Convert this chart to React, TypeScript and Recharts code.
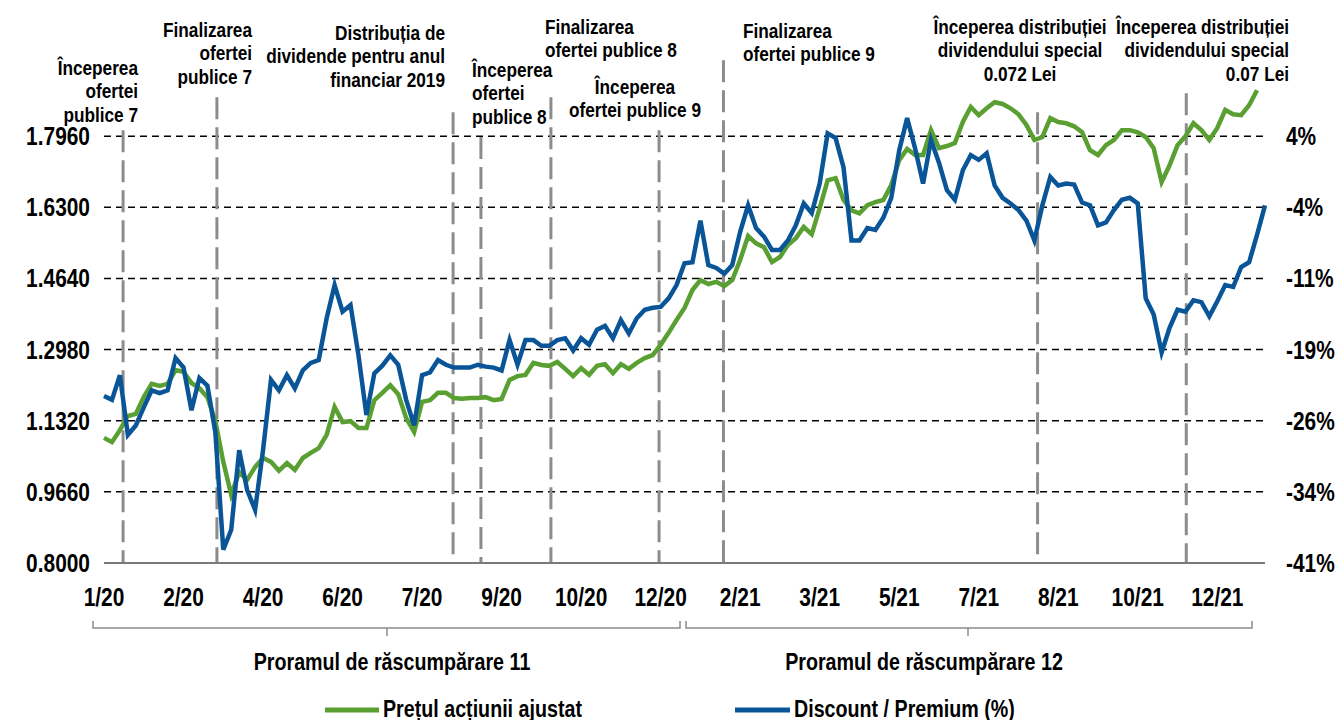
import React from "react"
import { LineChart, Line, XAxis, YAxis, ReferenceLine } from "recharts"

// Arial Narrow look: Liberation Sans Bold squeezed horizontally
const FONT = "'Liberation Sans', Arial, sans-serif"
const SQUEEZE = 0.82
const GREEN = "#5a9f32"
const BLUE = "#0a5597"
const GREY = "#8c8c8c"

// one x label every 10 points
const xLabels = ["1/20", "2/20", "4/20", "6/20", "7/20", "9/20", "10/20", "12/20", "2/21", "3/21", "5/21", "7/21", "8/21", "10/21", "12/21"]

const leftTicks = [0.8, 0.966, 1.132, 1.298, 1.464, 1.63, 1.796]
const rightTicks = [-41, -33.5, -26, -18.5, -11, -3.5, 4]
const rightTickLabels = ["-41%", "-34%", "-26%", "-19%", "-11%", "-4%", "4%"]

// Pretul actiunii ajustat (left axis)
const pret = [
  1.092, 1.082, 1.110, 1.143, 1.148, 1.187, 1.218, 1.213, 1.218, 1.250,
  1.246, 1.220, 1.208, 1.187, 1.131, 1.036, 0.959, 1.012, 0.994, 1.024,
  1.045, 1.036, 1.015, 1.033, 1.017, 1.045, 1.057, 1.068, 1.099, 1.164,
  1.129, 1.131, 1.115, 1.115, 1.180, 1.197, 1.215, 1.194, 1.138, 1.106,
  1.176, 1.180, 1.197, 1.197, 1.185, 1.183, 1.185, 1.185, 1.187, 1.180,
  1.183, 1.227, 1.236, 1.239, 1.267, 1.262, 1.260, 1.269, 1.253, 1.236,
  1.255, 1.239, 1.260, 1.264, 1.243, 1.264, 1.253, 1.267, 1.278, 1.285,
  1.309, 1.337, 1.367, 1.395, 1.437, 1.460, 1.451, 1.456, 1.446, 1.460,
  1.507, 1.563, 1.546, 1.537, 1.502, 1.514, 1.542, 1.558, 1.584, 1.567,
  1.628, 1.693, 1.698, 1.647, 1.623, 1.616, 1.635, 1.642, 1.647, 1.682,
  1.740, 1.766, 1.752, 1.752, 1.810, 1.768, 1.773, 1.780, 1.829, 1.864,
  1.845, 1.861, 1.875, 1.871, 1.861, 1.847, 1.822, 1.787, 1.794, 1.838,
  1.829, 1.826, 1.819, 1.805, 1.763, 1.752, 1.775, 1.787, 1.810, 1.810,
  1.805, 1.794, 1.768, 1.689, 1.728, 1.775, 1.796, 1.826, 1.810, 1.787,
  1.815, 1.857, 1.847, 1.845, 1.868, 1.903, null,
]

// Discount / Premium (%) (right axis)
const discount = [
  -23.4, -23.8, -21.2, -27.5, -26.5, -24.6, -22.8, -23.1, -22.8, -19.4,
  -20.4, -24.9, -21.5, -22.3, -27.2, -39.6, -37.5, -29.1, -33.3, -35.4,
  -29.1, -21.7, -22.8, -21.2, -22.6, -20.7, -19.9, -19.6, -15.2, -11.7,
  -14.5, -13.8, -19.1, -25.4, -21.0, -20.2, -19.1, -20.1, -23.8, -26.5,
  -21.2, -20.9, -19.6, -20.1, -20.4, -20.4, -20.4, -20.1, -20.3, -20.4,
  -20.7, -17.5, -20.1, -17.5, -17.5, -18.1, -18.1, -17.5, -17.3, -18.6,
  -17.3, -18.0, -16.4, -16.0, -17.3, -15.4, -16.8, -15.2, -14.3, -14.1,
  -14.0, -13.1, -11.7, -9.4, -9.3, -4.9, -9.6, -9.9, -10.5, -9.6,
  -6.1, -3.3, -5.7, -6.6, -8.0, -8.0, -7.0, -5.4, -3.1, -4.1,
  -1.0, 4.3, 3.8, 0.7, -7.0, -7.0, -5.7, -5.9, -4.6, -2.5,
  2.5, 5.9, 2.7, -1.0, 3.6, 1.2, -1.7, -2.7, 0.4, 2.0,
  1.5, 2.2, -1.2, -2.5, -3.1, -3.8, -4.9, -7.0, -3.3, -0.3,
  -1.2, -1.0, -1.1, -3.0, -3.3, -5.4, -5.1, -3.8, -2.7, -2.5,
  -3.1, -13.1, -14.8, -18.8, -16.2, -14.3, -14.5, -13.3, -13.5, -15.0,
  -13.4, -11.7, -11.9, -9.8, -9.3, -6.4, -3.3,
]

// event markers: point index and where the dashed line starts (left axis units)
const events = [
  { at: 2.4, top: 1.81 },
  { at: 14.2, top: 1.887 },
  { at: 43.9, top: 1.852 },
  { at: 47.4, top: 1.794 },
  { at: 56.2, top: 1.887 },
  { at: 69.8, top: 1.81 },
  { at: 77.9, top: 1.973 },
  { at: 117.4, top: 1.852 },
  { at: 136.1, top: 1.896 },
]

const notes = [
  { x: 138, anchor: "end", y: 75, lines: ["Începerea", "ofertei", "publice 7"] },
  { x: 252, anchor: "end", y: 37, lines: ["Finalizarea", "ofertei", "publice 7"] },
  { x: 445, anchor: "end", y: 40, lines: ["Distribuția de", "dividende pentru anul", "financiar 2019"] },
  { x: 472, anchor: "start", y: 77, lines: ["Începerea", "ofertei", "publice 8"] },
  { x: 545, anchor: "start", y: 33.5, lines: ["Finalizarea", "ofertei publice 8"] },
  { x: 635, anchor: "middle", y: 94, lines: ["Începerea", "ofertei publice 9"] },
  { x: 743, anchor: "start", y: 38, lines: ["Finalizarea", "ofertei publice 9"] },
  { x: 1020, anchor: "middle", y: 34, lines: ["Începerea distribuției", "dividendului special", "0.072 Lei"] },
  { x: 1289, anchor: "end", y: 34, lines: ["Începerea distribuției", "dividendului special", "0.07 Lei"] },
]

const data = pret.map((v, i) => ({ i, pret: v, discount: discount[i] }))
const xTicks = xLabels.map((_, k) => k * 10)

const Narrow = ({ x, y, anchor, size, children }: any) => (
  <text
    transform={`translate(${x},${y}) scale(${SQUEEZE},1)`}
    textAnchor={anchor}
    fontFamily={FONT}
    fontWeight={700}
    fontSize={size}
    fill="#000"
  >
    {children}
  </text>
)

const XTick = ({ x, y, payload }: any) => (
  <Narrow x={x} y={y + 18} anchor="middle" size={25.5}>{xLabels[Math.round(payload.value / 10)]}</Narrow>
)
const LeftTick = ({ x, y, payload }: any) => (
  <Narrow x={x} y={y + 9} anchor="end" size={25.5}>{Number(payload.value).toFixed(4)}</Narrow>
)
const RightTick = ({ x, y, payload }: any) => (
  <Narrow x={x} y={y + 9} anchor="start" size={25.5}>{rightTickLabels[rightTicks.indexOf(payload.value)]}</Narrow>
)

const Overlay = () => (
  <svg width={1341} height={720} style={{ position: "absolute", left: 0, top: 0, pointerEvents: "none" }}>
    {notes.map((n, k) => (
      <Narrow key={k} x={n.x} y={n.y} anchor={n.anchor} size={21}>
        {n.lines.map((l, j) => (
          <tspan key={j} x={0} dy={j === 0 ? 0 : 23.5}>{l}</tspan>
        ))}
      </Narrow>
    ))}
    <path d="M93,621 V628 H680 V621 M387,628 V636" stroke={GREY} strokeWidth={1.5} fill="none" />
    <path d="M686,621 V628 H1252 V621 M968,628 V636" stroke={GREY} strokeWidth={1.5} fill="none" />
    <Narrow x={392} y={670} anchor="middle" size={24}>Proramul de răscumpărare 11</Narrow>
    <Narrow x={924} y={670} anchor="middle" size={24}>Proramul de răscumpărare 12</Narrow>
    <line x1={325} y1={710} x2={379} y2={710} stroke={GREEN} strokeWidth={5} />
    <Narrow x={383} y={717} anchor="start" size={24}>Prețul acțiunii ajustat</Narrow>
    <line x1={735} y1={710} x2={790} y2={710} stroke={BLUE} strokeWidth={5} />
    <Narrow x={794} y={717} anchor="start" size={24}>Discount / Premium (%)</Narrow>
  </svg>
)

export default function App() {
  return (
    <div style={{ position: "absolute", left: 0, top: 0, width: 1341, height: 720, background: "#fff", overflow: "hidden" }}>
      <LineChart width={1341} height={720} data={data} margin={{ top: 65, right: 0, bottom: 117, left: 0 }}>
        <XAxis
          type="number"
          dataKey="i"
          domain={[0, 146]}
          ticks={xTicks}
          interval={0}
          axisLine={{ stroke: "#7a7a7a", strokeWidth: 2 }}
          tickLine={false}
          tickSize={0}
          tickMargin={25}
          height={40}
          tick={<XTick />}
        />
        <YAxis
          yAxisId="left"
          domain={[0.8, 1.962]}
          ticks={leftTicks}
          interval={0}
          axisLine={false}
          tickLine={false}
          tickSize={0}
          tickMargin={14}
          width={104}
          tick={<LeftTick />}
        />
        <YAxis
          yAxisId="right"
          orientation="right"
          domain={[-41, 11.5]}
          ticks={rightTicks}
          interval={0}
          axisLine={false}
          tickLine={false}
          tickSize={0}
          tickMargin={21}
          width={76}
          tick={<RightTick />}
        />
        {/* horizontal dashed grid at the left-axis ticks */}
        {leftTicks.slice(1).map((t) => (
          <ReferenceLine key={t} yAxisId="left" y={t} stroke="#000" strokeWidth={1.5} strokeDasharray="7 5" />
        ))}
        {events.map((e, k) => (
          <ReferenceLine
            key={k}
            yAxisId="left"
            segment={[{ x: e.at, y: e.top }, { x: e.at, y: 0.8 }]}
            stroke={GREY}
            strokeWidth={3}
            strokeDasharray="22 8"
            ifOverflow="visible"
          />
        ))}
        <Line yAxisId="left" type="linear" dataKey="pret" stroke={GREEN} strokeWidth={4.5} dot={false} isAnimationActive={false} />
        <Line yAxisId="right" type="linear" dataKey="discount" stroke={BLUE} strokeWidth={4.5} dot={false} isAnimationActive={false} />
      </LineChart>
      <Overlay />
    </div>
  )
}
